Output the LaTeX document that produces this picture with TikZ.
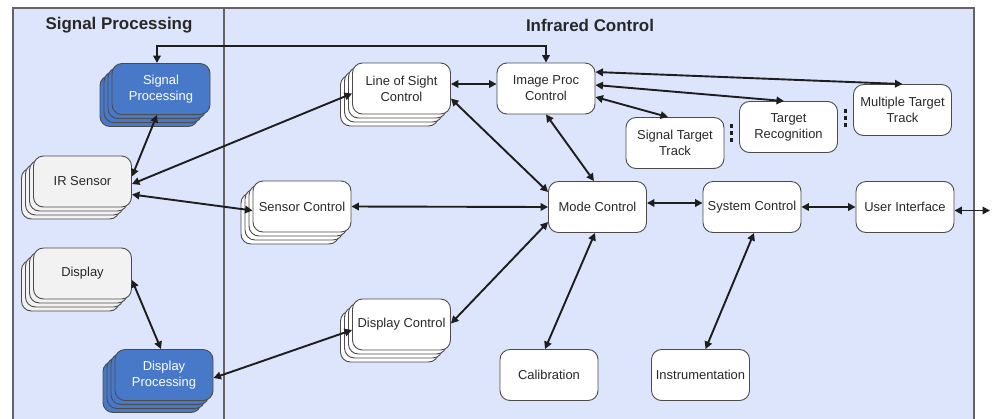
\documentclass[tikz,border=0pt]{standalone}
\usepackage{fontspec}
\setmainfont{Liberation Sans}
\usetikzlibrary{arrows.meta,shadows,calc}
\definecolor{bgc}{RGB}{221,229,252}
\definecolor{bluef}{RGB}{72,121,200}
\definecolor{grayf}{RGB}{242,242,242}
\definecolor{edgec}{RGB}{75,75,75}
\definecolor{ink}{RGB}{30,30,30}
\definecolor{txt}{RGB}{40,40,40}
\definecolor{framec}{RGB}{100,100,100}
\begin{document}
\begin{tikzpicture}[x=1bp,y=-1bp,
  box/.style={draw=edgec,line width=0.9bp,rounded corners=10bp,minimum width=98bp,minimum height=51bp,inner sep=0pt,align=center,font=\fontsize{13}{16}\selectfont,text=txt,fill=white},
  stack/.style={copy shadow={shadow xshift=-12bp,shadow yshift=-12bp},copy shadow={shadow xshift=-8bp,shadow yshift=-8bp},copy shadow={shadow xshift=-4bp,shadow yshift=-4bp}},
  bluebox/.style={box,stack,fill=bluef,text=white},
  graybox/.style={box,stack,fill=grayf},
  whitestack/.style={box,stack},
  arr/.style={draw=ink,line width=1.9bp,{Triangle[length=7.5bp,width=7.5bp]}-{Triangle[length=7.5bp,width=7.5bp]}},
  sepline/.style={draw=ink,line width=2.6bp,dash pattern=on 4bp off 3bp},
  title/.style={font=\fontsize{17}{20}\selectfont\bfseries,text=txt}
]
\useasboundingbox (0,0) rectangle (997,418);
% frame
\fill[bgc] (13,8) rectangle (974,425);
\draw[framec,line width=1.2bp] (13,425) -- (13,8) -- (974,8) -- (974,425);
\draw[framec,line width=1.2bp] (224,8) -- (224,425);
\node[title] (t1) at (119,25) {Signal Processing};
\node[title] (t2) at (590,25) {Infrared Control};

% nodes
\node[bluebox] (sp) at (161,89) {Signal\\Processing};
\node[graybox] (irs) at (82.5,181.5) {IR Sensor};
\node[graybox] (disp) at (82.5,273.5) {Display};
\node[bluebox] (dp) at (164,375) {Display\\Processing};
\node[whitestack] (los) at (401.5,88.5) {Line of Sight\\Control};
\node[whitestack] (sc) at (302,206.5) {Sensor Control};
\node[whitestack] (dc) at (401.5,324.5) {Display Control};
\node[box] (ipc) at (546,88.5) {Image Proc\\Control};
\node[box] (stt) at (675,143) {Signal Target\\Track};
\node[box] (tr) at (788.5,127) {Target\\Recognition};
\node[box] (mtt) at (902.5,110) {Multiple Target\\Track};
\node[box] (mc) at (597.5,207) {Mode Control};
\node[box] (syc) at (752,207) {System Control};
\node[box] (ui) at (905,207) {User Interface};
\node[box] (cal) at (549,375) {Calibration};
\node[box] (ins) at (700.5,375) {Instrumentation};
\coordinate (ext) at (990,210.5);

% separators
\draw[sepline] ($(stt.east)!0.5!(tr.west)$) ++(0,-11) -- ++(0,20);
\draw[sepline] ($(tr.east)!0.5!(mtt.west)$) ++(0,-10) -- ++(0,20);

% connectors
\draw[arr] ([shift={(-4,0)}]sp.north) |- ([shift={(0,-17)}]ipc.north) -- (ipc.north);
\draw[arr] ([shift={(-4,0)}]sp.south) -- ([shift={(0,-5)}]irs.east);
\draw[arr] ([shift={(0,2.5)}]irs.east) -- ([shift={(0,5)}]los.west);
\draw[arr] ([shift={(0,13)}]irs.east) -- ([shift={(0,4)}]sc.west);
\draw[arr] ([shift={(0,-4.5)}]los.east) -- ([shift={(0,-4.5)}]ipc.west);
\draw[arr] ([shift={(0,10)}]los.east) -- ([shift={(0,-15)}]mc.west);
\draw[arr] (ipc.south) -- ([shift={(-3.5,0)}]mc.north);
\draw[arr] ([shift={(0,-16.5)}]ipc.east) -- (mtt.north);
\draw[arr] ([shift={(0,-3.5)}]ipc.east) -- ([shift={(-4.5,0)}]tr.north);
\draw[arr] ([shift={(0,8.5)}]ipc.east) -- ([shift={(-7,0)}]stt.north);
\draw[arr] (sc.east) -- (mc.west);
\draw[arr] ([shift={(0,-4)}]mc.east) -- ([shift={(0,-4)}]syc.west);
\draw[arr] (syc.east) -- (ui.west);
\draw[arr] ([shift={(0,3.5)}]ui.east) -- (ext);
\draw[arr] ([shift={(0,15)}]mc.west) -- ([shift={(0,-1)}]dc.east);
\draw[arr] ([shift={(-2.5,0)}]mc.south) -- ([shift={(-4,0)}]cal.north);
\draw[arr] ([shift={(2,0)}]syc.south) -- ([shift={(5,0)}]ins.north);
\draw[arr] ([shift={(0,6.5)}]disp.east) -- ([shift={(-3,0)}]dp.north);
\draw[arr] ([shift={(0,5.5)}]dc.west) -- ([shift={(0,3)}]dp.east);
\end{tikzpicture}
\end{document}
